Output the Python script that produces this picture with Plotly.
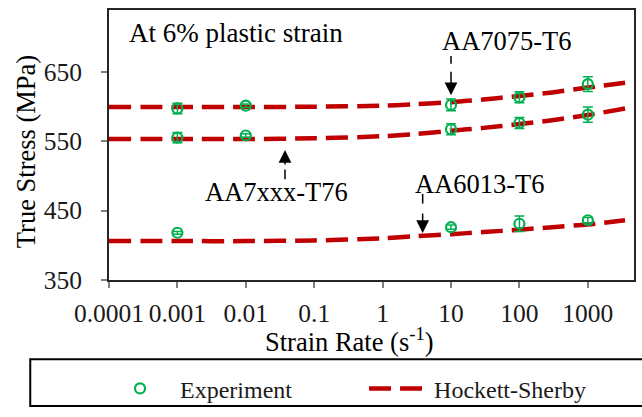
import plotly.graph_objects as go
import math

# ---------------- data ----------------
exp_rate_7 = [0.001, 0.01, 10, 100, 1000]
exp_7075 = [597, 601, 602, 613, 632]
err_7075 = [7.5, 2.5, 8.5, 8, 10.5]
exp_7xxx = [555, 558, 567, 576, 588]
err_7xxx = [7.5, 2.5, 8, 8, 11]
exp_rate_6 = [0.001, 10, 100, 1000]
exp_6013 = [418, 426, 431, 436]
err_6013 = [2, 3, 11, 4]

hs_rate = [0.0001, 0.001, 0.01, 0.1, 1, 3, 10, 30, 100, 300, 1000, 3500]
hs_7075 = [599, 599, 599, 599.5, 601, 603, 606, 610, 615, 620, 627, 634]
hs_7xxx = [553, 553, 553, 554, 557, 560, 565, 569, 574.5, 580, 587.5, 597]
hs_6013 = [406, 406, 406, 407, 410, 413, 416, 419, 422.5, 426, 430, 436]

x_tickvals = [0.0001, 0.001, 0.01, 0.1, 1, 10, 100, 1000]
x_ticktext = ["0.0001", "0.001", "0.01", "0.1", "1", "10", "100", "1000"]
y_tickvals = [350, 450, 550, 650]

GREEN = "#00B050"
RED = "#C00000"
FONT = "Liberation Serif, Times New Roman, serif"

fig = go.Figure()

for i, (xs, ys) in enumerate([(hs_rate, hs_7075), (hs_rate, hs_7xxx), (hs_rate, hs_6013)]):
    fig.add_trace(go.Scatter(
        x=xs, y=ys, mode="lines", name="Hockett-Sherby",
        legend="legend2", legendgroup="hs", showlegend=(i == 0),
        line=dict(color=RED, width=4.5, dash="22px,9px", shape="spline", smoothing=0.8),
        hoverinfo="skip"))

for i, (xs, ys, es) in enumerate([(exp_rate_7, exp_7075, err_7075),
                                  (exp_rate_7, exp_7xxx, err_7xxx),
                                  (exp_rate_6, exp_6013, err_6013)]):
    fig.add_trace(go.Scatter(
        x=xs, y=ys, mode="markers", name="Experiment",
        legend="legend", legendgroup="exp", showlegend=(i == 0),
        marker=dict(symbol="circle-open", size=10, color=GREEN, line=dict(width=2.2, color=GREEN)),
        error_y=dict(type="data", array=es, visible=True, color=GREEN, thickness=1.5, width=5)))

def lg(v):
    return math.log10(v)

ann_font = dict(family=FONT, size=26.5, color="black")
annotations = [
    dict(x=lg(0.000186), y=705, xref="x", yref="y", text="At 6% plastic strain", showarrow=False,
         xanchor="left", yanchor="middle", font=dict(family=FONT, size=27, color="black")),
    dict(x=lg(65), y=694, xref="x", yref="y", text="AA7075-T6", showarrow=False,
         xanchor="center", yanchor="middle", font=ann_font),
    dict(x=lg(0.0277), y=477, xref="x", yref="y", text="AA7xxx-T76", showarrow=False,
         xanchor="center", yanchor="middle", font=ann_font),
    dict(x=lg(26.9), y=488, xref="x", yref="y", text="AA6013-T6", showarrow=False,
         xanchor="center", yanchor="middle", font=ann_font),
    # arrow heads
    dict(x=lg(10), y=616, xref="x", yref="y", text="", showarrow=True, ax=0, ay=-25,
         arrowhead=2, arrowsize=1.7, arrowwidth=1.5, arrowcolor="black"),
    dict(x=lg(0.0374), y=537, xref="x", yref="y", text="", showarrow=True, ax=0, ay=16,
         arrowhead=2, arrowsize=1.7, arrowwidth=1.5, arrowcolor="black"),
    dict(x=lg(3.85), y=417.6, xref="x", yref="y", text="", showarrow=True, ax=0, ay=-21,
         arrowhead=2, arrowsize=1.7, arrowwidth=1.5, arrowcolor="black"),
    # axis titles
    dict(x=lg(0.33), y=-0.222, xref="x", yref="paper", text="Strain Rate (s<sup>-1</sup>)",
         showarrow=False, xanchor="center", yanchor="middle",
         font=dict(family=FONT, size=26.5, color="black")),
    dict(x=-0.1575, y=0.4746, xref="paper", yref="paper", text="True Stress (MPa)",
         textangle=-90, showarrow=False, xanchor="center", yanchor="middle",
         font=dict(family=FONT, size=26.5, color="black")),
]

shapes = [
    dict(type="line", xref="x", yref="y", x0=10, x1=10, y0=672.5, y1=661.3,
         line=dict(color="black", width=1.5)),
    dict(type="line", xref="x", yref="y", x0=0.0374, x1=0.0374, y0=509.2, y1=495.1,
         line=dict(color="black", width=1.5)),
    dict(type="line", xref="x", yref="y", x0=3.85, x1=3.85, y0=474, y1=460,
         line=dict(color="black", width=1.5)),
    # legend frame
    dict(type="rect", xref="paper", yref="paper", x0=-0.15, x1=1.2, y0=-0.467, y1=-0.2935,
         line=dict(color="black", width=2), fillcolor="rgba(0,0,0,0)", layer="above"),
]

leg_font = dict(family=FONT, size=24, color="#1a1a1a")
fig.update_layout(
    width=642, height=417,
    margin=dict(l=109, r=6, t=10, b=131),
    paper_bgcolor="white", plot_bgcolor="white",
    font=dict(family=FONT, size=25, color="#1a1a1a"),
    annotations=annotations, shapes=shapes,
    showlegend=True,
    legend=dict(orientation="h", x=-0.0171, y=-0.403, xanchor="left", yanchor="middle",
                font=leg_font, itemwidth=70, bgcolor="rgba(0,0,0,0)", borderwidth=0),
    legend2=dict(orientation="h", x=0.4858, y=-0.403, xanchor="left", yanchor="middle",
                 font=leg_font, itemwidth=60, bgcolor="rgba(0,0,0,0)", borderwidth=0),
    xaxis=dict(type="log", range=[-4, 3.675], tickvals=x_tickvals, ticktext=x_ticktext,
               tickangle=0, ticks="outside", ticklen=6, tickwidth=1.5, tickcolor="#808080",
               showline=True, linecolor="#262626", linewidth=2, mirror=True,
               showgrid=False, zeroline=False, ticklabelstandoff=3,
               tickfont=dict(family=FONT, size=25.5, color="#1a1a1a")),
    yaxis=dict(range=[350, 738.7], tickvals=y_tickvals, ticks="outside", ticklen=6,
               tickwidth=1.5, tickcolor="#808080",
               showline=True, linecolor="#262626", linewidth=2, mirror=True,
               showgrid=False, zeroline=False, ticklabelstandoff=14,
               tickfont=dict(family=FONT, size=25.5, color="#1a1a1a")),
)

fig.write_html("out.html")
